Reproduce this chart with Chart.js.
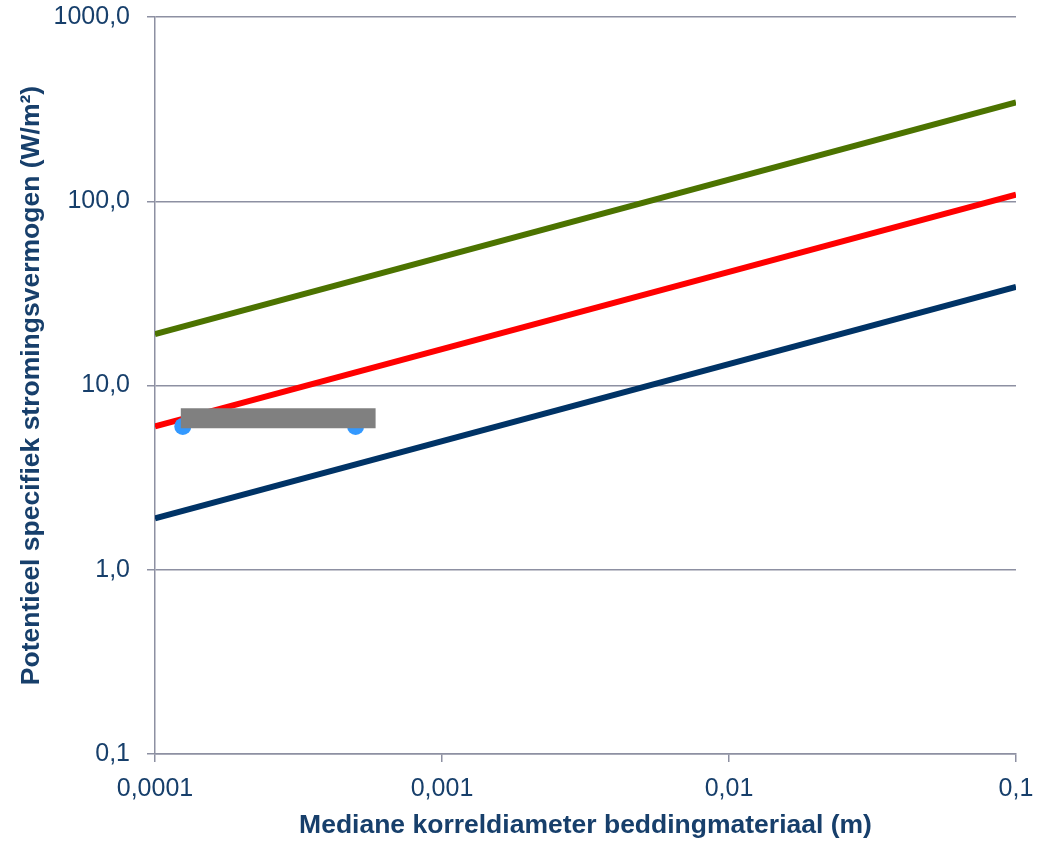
<!DOCTYPE html>
<html>
<head>
<meta charset="utf-8">
<script src="https://cdn.jsdelivr.net/npm/chart.js@4/dist/chart.umd.min.js"></script>
<style>
  html, body { margin: 0; padding: 0; background: #ffffff; }
  canvas { display: block; }
</style>
</head>
<body>
<canvas id="chart" width="1037" height="844"></canvas>
<script>
// Grain diameter (m) at the ends of each reference line
const lineDiameters = [0.0001, 0.1];
// Potential specific stream power (W/m²) of each reference line
const upperLine = [19.0, 344];
const middleLine = [6.0, 108.5];
const lowerLine = [1.9, 34.3];

// Observed range of bed material diameter and its stream power
const rangeDiameters = [0.000123, 0.000587];
const rangePower = [6.64, 6.64];

// Individual measurements
const pointDiameters = [0.000125, 0.0005];
const pointPower = [6.0, 6.0];

// Axis ticks
const xTickValues = [0.0001, 0.001, 0.01, 0.1];
const xTickLabels = ['0,0001', '0,001', '0,01', '0,1'];
const yTickValues = [0.1, 1, 10, 100, 1000];
const yTickLabels = ['0,1', '1,0', '10,0', '100,0', '1000,0'];

const xTitle = 'Mediane korreldiameter beddingmateriaal (m)';
const yTitle = 'Potentieel specifiek stromingsvermogen (W/m²)';

const textColor = '#173f6b';
const gridColor = '#8d90a2';
const fontFamily = '"Liberation Sans", Arial, sans-serif';

const toPoints = (xs, ys) => xs.map((x, i) => ({ x: x, y: ys[i] }));

function labelFor(values, labels, v) {
  const i = values.findIndex(t => Math.abs(Math.log10(t) - Math.log10(v)) < 1e-6);
  return i >= 0 ? labels[i] : '';
}

// Fixed axis box sizes; the plot area margins come from layout.padding only
function fixBox(size) {
  return s => {
    if (s.isHorizontal()) s.height = size; else s.width = size;
    s.paddingTop = 0;
    s.paddingBottom = 0;
    s.paddingLeft = 0;
    s.paddingRight = 0;
  };
}

new Chart(document.getElementById('chart'), {
  type: 'line',
  data: {
    datasets: [
      {
        label: 'bereik',
        data: toPoints(rangeDiameters, rangePower),
        borderColor: '#808080',
        borderWidth: 20,
        borderCapStyle: 'butt',
        pointRadius: 0,
        order: 0
      },
      {
        label: 'metingen',
        data: toPoints(pointDiameters, pointPower),
        showLine: false,
        pointRadius: 8.5,
        pointBackgroundColor: '#3399ff',
        pointBorderColor: '#3399ff',
        pointBorderWidth: 0,
        order: 1
      },
      {
        label: 'boven',
        data: toPoints(lineDiameters, upperLine),
        borderColor: '#4c7300',
        borderWidth: 6,
        pointRadius: 0,
        order: 2
      },
      {
        label: 'midden',
        data: toPoints(lineDiameters, middleLine),
        borderColor: '#ff0000',
        borderWidth: 6,
        pointRadius: 0,
        order: 3
      },
      {
        label: 'onder',
        data: toPoints(lineDiameters, lowerLine),
        borderColor: '#003366',
        borderWidth: 6,
        pointRadius: 0,
        order: 4
      }
    ]
  },
  options: {
    responsive: false,
    animation: false,
    devicePixelRatio: 1,
    layout: { padding: { top: 17, right: 21, left: 0, bottom: 0 } },
    plugins: {
      legend: { display: false },
      tooltip: { enabled: false }
    },
    scales: {
      x: {
        type: 'logarithmic',
        min: 0.0001,
        max: 0.1,
        afterBuildTicks: s => { s.ticks = xTickValues.map(v => ({ value: v })); },
        afterFit: fixBox(90),
        border: { display: true, color: gridColor, width: 1.5 },
        grid: {
          drawOnChartArea: false,
          drawTicks: true,
          tickLength: 8,
          color: gridColor,
          lineWidth: 1.5
        },
        ticks: {
          color: textColor,
          font: { family: fontFamily, size: 25 },
          padding: 12,
          maxRotation: 0,
          autoSkip: false,
          callback: v => labelFor(xTickValues, xTickLabels, v)
        },
        title: {
          display: true,
          text: xTitle,
          color: textColor,
          font: { family: fontFamily, size: 26.5, weight: 'bold' },
          padding: { top: 0, bottom: 2 }
        }
      },
      y: {
        type: 'logarithmic',
        min: 0.1,
        max: 1000,
        afterBuildTicks: s => { s.ticks = yTickValues.map(v => ({ value: v })); },
        afterFit: fixBox(155),
        border: { display: true, color: gridColor, width: 1.5 },
        grid: {
          drawOnChartArea: true,
          drawTicks: true,
          tickLength: 8,
          color: gridColor,
          lineWidth: 1.5
        },
        ticks: {
          color: textColor,
          font: { family: fontFamily, size: 25 },
          padding: 17,
          autoSkip: false,
          callback: v => labelFor(yTickValues, yTickLabels, v)
        },
        title: {
          display: true,
          text: yTitle,
          color: textColor,
          font: { family: fontFamily, size: 26.5, weight: 'bold' },
          padding: { top: 16, bottom: 0 }
        }
      }
    }
  }
});
</script>
</body>
</html>
